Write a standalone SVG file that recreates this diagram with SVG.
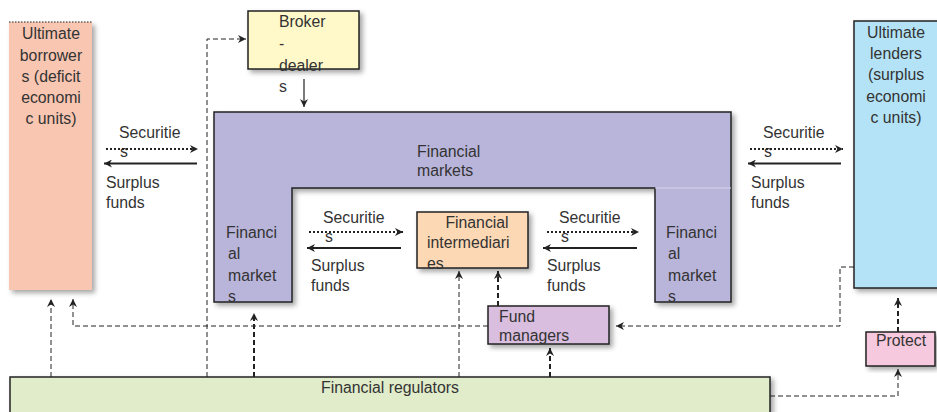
<svg xmlns="http://www.w3.org/2000/svg" width="937" height="412" viewBox="0 0 937 412">
<defs>
<filter id="sh" x="-20%" y="-20%" width="140%" height="140%">
<feDropShadow dx="3" dy="3" stdDeviation="2.5" flood-color="#000" flood-opacity="0.35"/>
</filter>
<marker id="ah" viewBox="0 0 10 10" refX="10" refY="5" markerWidth="8" markerHeight="8" markerUnits="userSpaceOnUse" orient="auto">
<path d="M0,0 L10,5 L0,10 L3,5 z" fill="#222"/>
</marker>
</defs>
<style>
text{font-family:"Liberation Sans",Arial,sans-serif;font-size:15.8px;fill:#333}
.box{stroke:#222;stroke-width:1.5}
.c{text-anchor:middle}
.dash{fill:none;stroke:#222;stroke-width:1;stroke-dasharray:5,3}
.tdash{fill:none;stroke:#222;stroke-width:2;stroke-dasharray:5,3}
.dot{fill:none;stroke:#222;stroke-width:2;stroke-dasharray:2,2}
.sol{fill:none;stroke:#222;stroke-width:2}
</style>
<rect width="937" height="412" fill="#fff"/>

<g id="borrowers">
<rect x="9" y="22" width="83" height="268" fill="#f9c6b1" filter="url(#sh)"/>
<line x1="9" y1="22" x2="92" y2="22" stroke="#222" stroke-width="1" stroke-dasharray="1.5,1.5"/>
<text class="c" x="51" y="39">Ultimate</text>
<text class="c" x="51" y="60.5">borrower</text>
<text class="c" x="51" y="82">s (deficit</text>
<text class="c" x="51" y="103">economi</text>
<text class="c" x="51" y="124">c units)</text>
</g>

<g id="lenders">
<rect x="854" y="21" width="90" height="267" fill="#b4e3f7" class="box" filter="url(#sh)"/>
<text class="c" x="896" y="38">Ultimate</text>
<text class="c" x="896" y="59">lenders</text>
<text class="c" x="896" y="80">(surplus</text>
<text class="c" x="896" y="101.5">economi</text>
<text class="c" x="896" y="123">c units)</text>
</g>

<g id="broker">
<rect x="248" y="11" width="111" height="58" fill="#fff9c9" class="box" filter="url(#sh)"/>
<text x="279" y="27">Broker</text>
<text x="279" y="49">-</text>
<text x="279" y="71">dealer</text>
<text x="279" y="92">s</text>
</g>

<g id="markets">
<path d="M214,112 H731 V302 H655 V188 H292 V302 H214 Z" fill="#b9b5da" class="box" filter="url(#sh)"/>
<line x1="655" y1="188" x2="731" y2="188" stroke="#d8d6ec" stroke-width="1"/>
<text x="417" y="157">Financial</text>
<text x="417" y="176">markets</text>
<text x="226" y="238">Financi</text>
<text x="228" y="259">al</text>
<text x="228" y="281">market</text>
<text x="228" y="302">s</text>
<text x="666" y="238">Financi</text>
<text x="668" y="259">al</text>
<text x="668" y="281">market</text>
<text x="668" y="302">s</text>
</g>

<g id="intermediaries">
<rect x="417" y="212" width="111" height="56" fill="#fdd8b4" class="box" filter="url(#sh)"/>
<text class="c" x="477" y="228">Financial</text>
<text x="427" y="248">intermediari</text>
<text x="427" y="269">es</text>
</g>

<g id="fundmanagers">
<rect x="488" y="306" width="121" height="38" fill="#d9bedf" class="box" filter="url(#sh)"/>
<text x="499" y="322">Fund</text>
<text x="499" y="341">managers</text>
</g>

<g id="protect">
<rect x="866" y="332" width="69" height="34" fill="#f7c9de" class="box" filter="url(#sh)"/>
<text x="876" y="346">Protect</text>
</g>

<g id="regulators">
<rect x="10" y="377" width="760" height="50" fill="#e0ecca" class="box" filter="url(#sh)"/>
<text class="c" x="390" y="393">Financial regulators</text>
</g>

<g id="flowlabels">
<text x="119" y="138">Securitie</text>
<text x="120" y="157">s</text>
<text x="106" y="188">Surplus</text>
<text x="106" y="208">funds</text>
<text x="763" y="138">Securitie</text>
<text x="764" y="157">s</text>
<text x="751" y="188">Surplus</text>
<text x="751" y="208">funds</text>
<text x="323" y="223">Securitie</text>
<text x="325" y="242">s</text>
<text x="311" y="271">Surplus</text>
<text x="311" y="291">funds</text>
<text x="559" y="223">Securitie</text>
<text x="561" y="242">s</text>
<text x="547" y="271">Surplus</text>
<text x="547" y="291">funds</text>
</g>

<g id="connectors">
<line class="dot" x1="106" y1="149" x2="198" y2="149" marker-end="url(#ah)"/>
<line class="sol" x1="197" y1="163.5" x2="104" y2="163.5" marker-end="url(#ah)"/>
<line class="dot" x1="750" y1="149" x2="843" y2="149" marker-end="url(#ah)"/>
<line class="sol" x1="841" y1="163.5" x2="748" y2="163.5" marker-end="url(#ah)"/>
<line class="dot" x1="309" y1="232" x2="403" y2="232" marker-end="url(#ah)"/>
<line class="sol" x1="401" y1="248" x2="307" y2="248" marker-end="url(#ah)"/>
<line class="dot" x1="547" y1="232" x2="639" y2="232" marker-end="url(#ah)"/>
<line class="sol" x1="637" y1="248" x2="543" y2="248" marker-end="url(#ah)"/>
<line x1="304" y1="79" x2="304" y2="107" stroke="#222" stroke-width="1.2" marker-end="url(#ah)"/>
<path class="dash" d="M51,377 V299" marker-end="url(#ah)"/>
<path class="dash" d="M488,326 H73 V299" marker-end="url(#ah)"/>
<path class="dash" d="M207,377 V39 H246" marker-end="url(#ah)"/>
<path class="tdash" d="M254,377 V313" marker-end="url(#ah)"/>
<path class="dash" d="M459,377 V271" marker-end="url(#ah)"/>
<path class="tdash" d="M498,306 V271" marker-end="url(#ah)"/>
<path class="tdash" d="M550,377 V348" marker-end="url(#ah)"/>
<path class="dash" d="M854,267 H840 V326 H616" marker-end="url(#ah)"/>
<path class="dash" d="M770,396 H898 V369" marker-end="url(#ah)"/>
<path class="tdash" d="M898,332 V298" marker-end="url(#ah)"/>
</g>
</svg>
